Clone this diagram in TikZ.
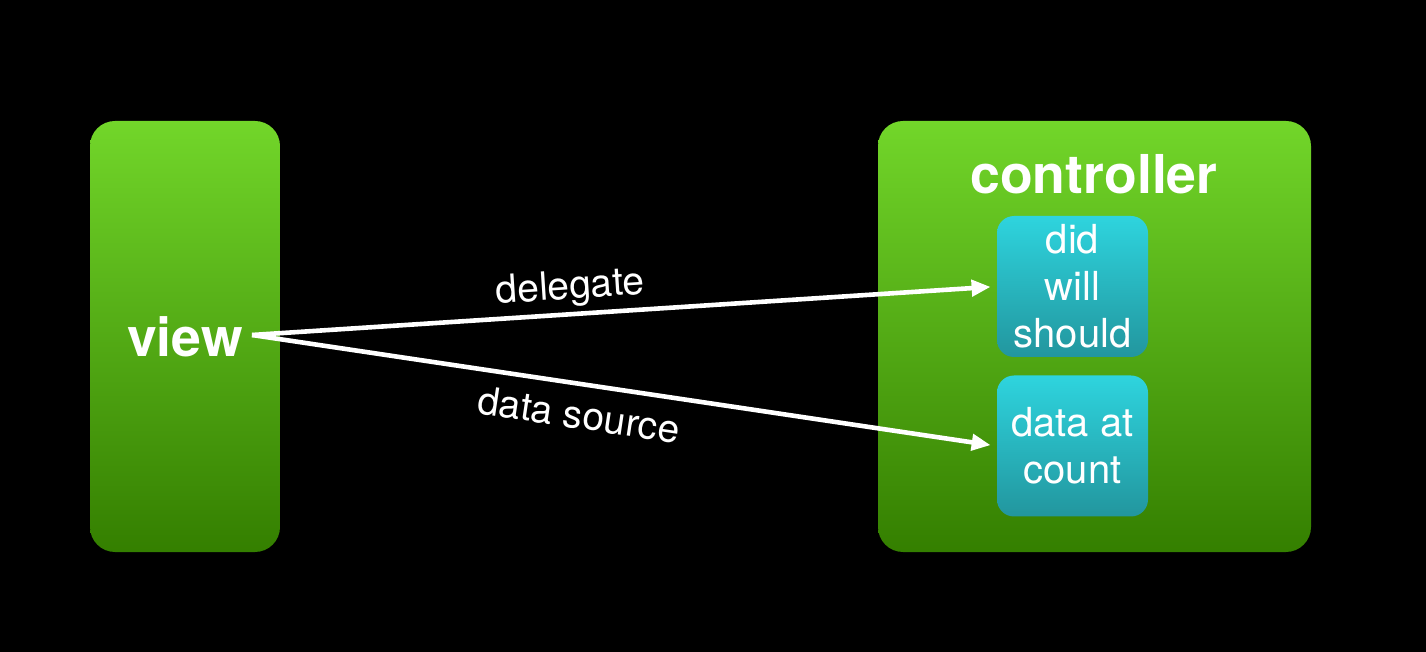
\documentclass[tikz,border=0pt]{standalone}
\usepackage{fontspec}
\setmainfont{TeX Gyre Heros}
\usetikzlibrary{arrows.meta}
\definecolor{grtop}{HTML}{72D62A}
\definecolor{grbot}{HTML}{347F00}
\definecolor{cytop}{HTML}{2ED4DE}
\definecolor{cybot}{HTML}{22969E}
\begin{document}
\begin{tikzpicture}[x=0.5pt,y=-0.5pt,
 bigbox/.style={rounded corners=12.5pt, top color=grtop, bottom color=grbot, draw=none, inner sep=0pt},
 smallbox/.style={rounded corners=8.5pt, top color=cytop, bottom color=cybot, draw=none, minimum width=75.5pt, minimum height=70.5pt, inner sep=0pt, text=white, font=\fontsize{20}{23.5}\selectfont, align=center},
 arr/.style={draw=white, line width=2.3pt, -{Triangle[length=9.5pt,width=8pt]}, shorten >=3pt},
 lbl/.style={text=white, font=\fontsize{19.5}{22}\selectfont, sloped},
 title/.style={text=white, font=\fontsize{26.8}{30}\bfseries\selectfont, inner sep=0pt}]
\fill[black] (0,0) rectangle (1426,652);
\useasboundingbox (0,0) rectangle (1426,652);
\node[bigbox, minimum width=95pt, minimum height=215.5pt] (viewbox) at (185,336.5) {};
\node[bigbox, minimum width=216.5pt, minimum height=215.5pt] (ctrlbox) at (1094.5,336.5) {};
\node[title, anchor=base] (viewlbl) at (185,357) {view};
\node[title, anchor=base] (ctrllbl) at (1094,194) {controller};
\node[smallbox] (dwbox) at (1072.5,286.5) {did\\will\\should};
\node[smallbox] (dcbox) at (1072.5,446) {data at\\count};
\coordinate (vstart) at (252,335);
\draw[arr] (vstart) -- (dwbox.west) node[lbl, pos=0.43, above=-1pt] {delegate};
\draw[arr] (vstart) -- (dcbox.west) node[lbl, pos=0.445, below=3.5pt] {data source};
\end{tikzpicture}
\end{document}
